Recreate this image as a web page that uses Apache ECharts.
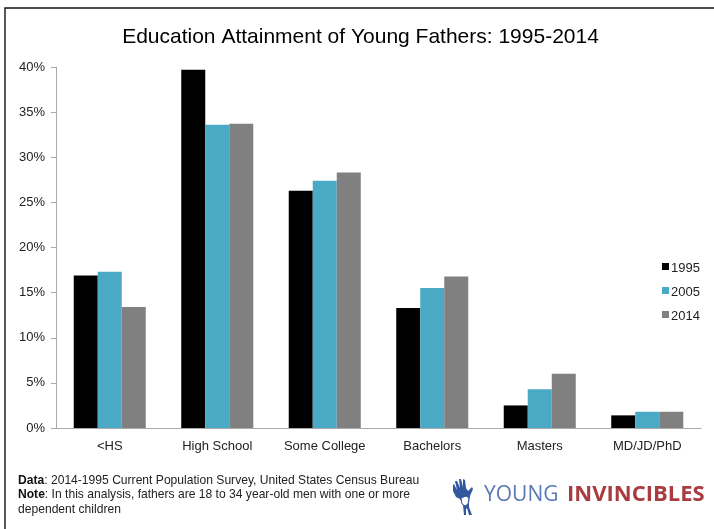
<!DOCTYPE html>
<html><head><meta charset="utf-8">
<style>html,body{margin:0;padding:0;background:#fff}#c{width:714px;height:529px}</style>
<script src="https://cdn.jsdelivr.net/npm/echarts@6/dist/echarts.min.js"></script>
</head><body><div id="c"></div>
<script>
const categories = ['<HS','High School','Some College','Bachelors','Masters','MD/JD/PhD'];
const y1995 = [16.9,39.7,26.3,13.3,2.5,1.4];
const y2005 = [17.3,33.6,27.4,15.5,4.3,1.8];
const y2014 = [13.4,33.7,28.3,16.8,6.0,1.8];
const titleText = 'Education Attainment of Young Fathers: 1995-2014';
const FONT = '"Liberation Sans", Arial, sans-serif';
const colors = ['#000000','#4aaac6','#808080'];
const chart = echarts.init(document.getElementById('c'), null, {renderer:'canvas'});
const mk = (name,data,i)=>({name,type:'bar',data,barGap:'0%',barCategoryGap:'33%',
  itemStyle:{color:colors[i]},emphasis:{disabled:true},animation:false});
chart.setOption({
  animation:false,
  backgroundColor:'#fff',
  title:{text:titleText,left:355.5,textAlign:'center',top:22,
    textStyle:{fontFamily:FONT,fontSize:21,fontWeight:'normal',color:'#000'}},
  legend:{orient:'vertical',left:657,top:257,itemWidth:7,itemHeight:7,itemGap:11,icon:'rect',
    itemStyle:{borderWidth:0},
    formatter:'{a|{name}}',
    textStyle:{fontFamily:FONT,fontSize:13,color:'#222',padding:[0,0,0,-3],
      rich:{a:{fontFamily:FONT,fontSize:13,color:'#222',padding:[4,0,0,0]}}},
    data:['1995','2005','2014']},
  grid:{left:56,right:13,top:67,bottom:101},
  xAxis:{type:'category',data:categories,
    axisLine:{lineStyle:{color:'#aaa',width:1}},axisTick:{show:false},
    axisLabel:{fontFamily:FONT,fontSize:13,color:'#222',margin:12,interval:0}},
  yAxis:{type:'value',min:0,max:40,interval:5,
    axisLine:{show:true,lineStyle:{color:'#aaa',width:1}},
    axisTick:{show:true,length:5,inside:false,lineStyle:{color:'#aaa'}},
    splitLine:{show:false},
    axisLabel:{fontFamily:FONT,fontSize:13,color:'#222',margin:11,formatter:'{value}%'}},
  series:[mk('1995',y1995,0),mk('2005',y2005,1),mk('2014',y2014,2)],
  graphic:[
    {type:'rect',silent:true,shape:{x:5,y:8,width:720,height:540},style:{fill:'none',stroke:'#111',lineWidth:1.4}},
    {type:'text',silent:true,x:18,y:473,style:{
      text:'{b|Data}: 2014-1995 Current Population Survey, United States Census Bureau\n{b|Note}: In this analysis, fathers are 18 to 34 year-old men with one or more\ndependent children',
      fontFamily:FONT,fontSize:12.1,lineHeight:14.5,fill:'#222',
      rich:{b:{fontFamily:FONT,fontSize:12.1,fontWeight:'bold',fill:'#111',lineHeight:14.5}}}},
    {type:'text',silent:true,x:484,y:485,style:{text:'YOUNG',fontFamily:'"Open Sans", Lato, sans-serif',fontSize:21,fill:'#5a78b4'}},
    {type:'text',silent:true,x:567,y:484,style:{text:'INVINCIBLES',fontFamily:'"Open Sans", Lato, sans-serif',fontSize:22,fontWeight:'bold',fill:'#a83c40'}},
    {type:'polygon',silent:true,shape:{points:[[464,515],[463,505],[460,499],[456,497],[453,491],[453,485],[454,484],[457,490],[455,481],[457,481],[460,488],[459,479],[461,479],[463,487],[463,479],[465,480],[466,488],[468,491],[472,487],[473,489],[470,496],[469,503],[469,507],[472,515],[469,515],[467,508],[466,509],[466,515]]},style:{fill:'#33589f'}},
    {type:'polygon',silent:true,shape:{points:[[461,498],[466,496],[469,498],[468,504],[465,506],[462,504]]},style:{fill:'#fff',stroke:'#33589f',lineWidth:1}}
  ]
});
</script></body></html>
